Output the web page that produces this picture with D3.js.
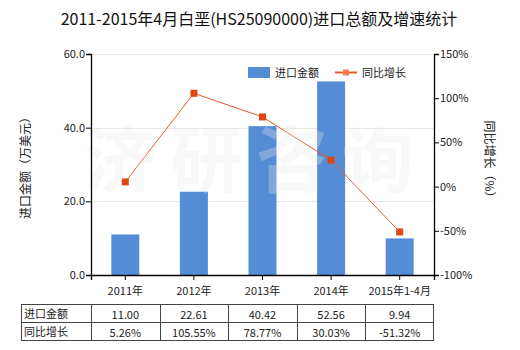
<!DOCTYPE html>
<html><head><meta charset="utf-8">
<script src="https://cdn.jsdelivr.net/npm/d3@7"></script>
<style>body{margin:0;background:#fff}svg{display:block}text{font-family:"Microsoft YaHei","Noto Sans CJK SC",sans-serif}</style>
</head><body><svg id="c" width="520" height="350"></svg>
<script>
const categories = ["2011年","2012年","2013年","2014年","2015年1-4月"];
const amounts = [11.00, 22.61, 40.42, 52.56, 9.94];
const growth = [5.26, 105.55, 78.77, 30.03, -51.32];
const amountLabels = ["11.00","22.61","40.42","52.56","9.94"];
const growthLabels = ["5.26%","105.55%","78.77%","30.03%","-51.32%"];
const leftTicks = [0, 20, 40, 60];
const rightTicks = [-100, -50, 0, 50, 100, 150];
const title = "2011-2015年4月白垩(HS25090000)进口总额及增速统计";

const svg = d3.select("#c");
const L = 91, R = 434, T = 54, B = 275;
const xc = d3.scaleBand().domain(categories).range([L, R]);
const yL = d3.scaleLinear().domain([0, 60]).range([B, T]);
const yR = d3.scaleLinear().domain([-100, 150]).range([B, T]);

svg.append("text").attr("x", 259).attr("y", 25).attr("text-anchor", "middle")
  .attr("font-size", 16).attr("fill", "#111").text(title);

// gridlines
svg.append("g").selectAll("line").data(leftTicks.filter(d => d > 0)).join("line")
  .attr("x1", L).attr("x2", R).attr("y1", d => Math.round(yL(d)) + 0.5).attr("y2", d => Math.round(yL(d)) + 0.5)
  .attr("stroke", "#ebe9df").attr("stroke-width", 1);

// bars
const bw = 28;
svg.append("g").selectAll("rect").data(amounts).join("rect")
  .attr("x", (d, i) => xc(categories[i]) + xc.bandwidth() / 2 - bw / 2)
  .attr("width", bw)
  .attr("y", d => yL(d)).attr("height", d => B - yL(d))
  .attr("fill", "#548dd5");

// line
const line = d3.line().x((d, i) => xc(categories[i]) + xc.bandwidth() / 2).y(d => yR(d));
svg.append("path").datum(growth).attr("d", line).attr("fill", "none")
  .attr("stroke", "#e55a26").attr("stroke-width", 1);
svg.append("g").selectAll("rect").data(growth).join("rect")
  .attr("x", (d, i) => xc(categories[i]) + xc.bandwidth() / 2 - 3.5)
  .attr("y", d => yR(d) - 3.5).attr("width", 7).attr("height", 7)
  .attr("fill", "#e04810");

// watermark
const wm = ["济", "研", "咨", "询"];
svg.append("g").selectAll("text").data(wm).join("text")
  .attr("x", (d, i) => 120 + i * 86).attr("y", 186).attr("text-anchor", "middle")
  .attr("font-size", 72).attr("font-weight", "bold")
  .attr("fill", "#e8e8e8").attr("fill-opacity", 0.3).text(d => d);

// axes
const axL = svg.append("g").attr("transform", `translate(${L},0)`)
  .call(d3.axisLeft(yL).tickValues(leftTicks).tickFormat(d3.format(".1f")).tickSize(5));
const axR = svg.append("g").attr("transform", `translate(${R},0)`)
  .call(d3.axisRight(yR).tickValues(rightTicks).tickFormat(d => d + "%").tickSize(5));
const axB = svg.append("g").attr("transform", `translate(0,${B})`)
  .call(d3.axisBottom(xc).tickSize(5));
[axL, axR, axB].forEach(a => {
  a.select(".domain").attr("stroke", "#000").attr("stroke-width", 1.3);
  a.selectAll(".tick line").attr("stroke", "#000");
  a.selectAll("text").attr("font-size", 11).attr("fill", "#222")
    .attr("font-family", '"Microsoft YaHei","Noto Sans CJK SC",sans-serif');
});
axL.selectAll("text").attr("x", -6);
axR.selectAll("text").attr("x", 6);
axB.selectAll("text").attr("dy", "1.1em");

// axis titles
svg.append("text").attr("transform", "translate(30,165) rotate(-90)").attr("text-anchor", "middle")
  .attr("font-size", 12).attr("fill", "#222").text("进口金额（万美元）");
svg.append("text").attr("transform", "translate(485,162) rotate(90)").attr("text-anchor", "middle")
  .attr("font-size", 12).attr("fill", "#222").text("同比增长（%）");

// legend
svg.append("rect").attr("x", 248).attr("y", 67).attr("width", 22).attr("height", 11).attr("fill", "#548dd5");
svg.append("text").attr("x", 275).attr("y", 76.5).attr("font-size", 11).attr("fill", "#222").text("进口金额");
svg.append("line").attr("x1", 335).attr("x2", 357).attr("y1", 72.5).attr("y2", 72.5).attr("stroke", "#e55a26").attr("stroke-width", 2);
svg.append("rect").attr("x", 343).attr("y", 69.5).attr("width", 6).attr("height", 6).attr("fill", "#f08050");
svg.append("text").attr("x", 362).attr("y", 76.5).attr("font-size", 11).attr("fill", "#222").text("同比增长");

// table
const tT = 304.5, rh = 18, tL = 21;
const tb = svg.append("g");
const colX = [tL, L, ...categories.map(c => xc(c) + xc.bandwidth())];
const rows = [["进口金额", amountLabels], ["同比增长", growthLabels]];
tb.append("rect").attr("x", tL + 0.5).attr("y", tT).attr("width", R - tL - 1).attr("height", rh * 2)
  .attr("fill", "none").attr("stroke", "#444");
tb.append("line").attr("x1", tL).attr("x2", R).attr("y1", tT + rh).attr("y2", tT + rh).attr("stroke", "#444");
colX.slice(1, -1).forEach(cx => tb.append("line").attr("x1", Math.round(cx) + 0.5).attr("x2", Math.round(cx) + 0.5)
  .attr("y1", tT).attr("y2", tT + rh * 2).attr("stroke", "#444"));
rows.forEach((r, ri) => {
  tb.append("text").attr("x", tL + 3).attr("y", tT + ri * rh + 13).attr("font-size", 11).attr("fill", "#222").text(r[0]);
  r[1].forEach((v, i) => tb.append("text").attr("x", xc(categories[i]) + xc.bandwidth() / 2)
    .attr("y", tT + ri * rh + 14).attr("text-anchor", "middle").attr("font-size", 11).attr("fill", "#222").text(v));
});
</script></body></html>
